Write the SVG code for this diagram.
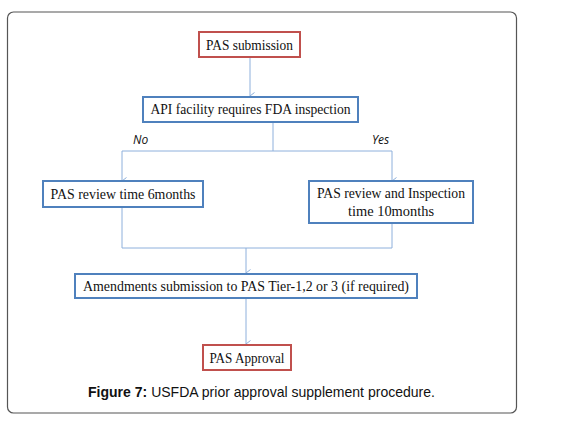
<svg xmlns="http://www.w3.org/2000/svg" width="572" height="424" viewBox="0 0 572 424">
<defs>
<marker id="ah" markerWidth="8" markerHeight="8" refX="4" refY="6" orient="auto" markerUnits="userSpaceOnUse" viewBox="0 0 8 8">
<path d="M0.5,1.5 L4,6 L7.5,1.5" fill="none" stroke="#8eb0dc" stroke-width="1"/>
</marker>
</defs>
<style>
.red{fill:#fff;stroke:#c0504d;stroke-width:2}
.blue{fill:#fff;stroke:#4f81bd;stroke-width:2}
.t{font-family:"Liberation Serif","DejaVu Serif",serif;font-size:14.5px;fill:#111;text-anchor:middle}
.lab{font-family:"Open Sans","Liberation Sans",sans-serif;font-style:italic;font-size:12px;fill:#111}
.c{fill:none;stroke:#8eb0dc;stroke-width:1}
.cap{font-family:"Liberation Sans",Arial,sans-serif;font-size:15px;fill:#111}
</style>
<rect x="0" y="0" width="572" height="424" fill="#fff"/>
<rect x="7.5" y="12" width="509" height="401" rx="6" fill="#fff" stroke="#555" stroke-width="1.2"/>
<g id="connectors">
<path class="c" d="M250,57 V96" marker-end="url(#ah)"/>
<path class="c" d="M273,122 V151 M122,151 H392"/>
<path class="c" d="M122,151 V181" marker-end="url(#ah)"/>
<path class="c" d="M392,151 V181" marker-end="url(#ah)"/>
<path class="c" d="M122,207 V248 H392 V223"/>
<path class="c" d="M246,248 V273" marker-end="url(#ah)"/>
<path class="c" d="M246,298 V344" marker-end="url(#ah)"/>
<text class="lab" x="133" y="144">No</text>
<text class="lab" x="372" y="144">Yes</text>
</g>
<g id="pas-submission">
<rect class="red" x="199" y="32" width="101" height="25"/>
<text class="t" x="249.5" y="50" textLength="87" lengthAdjust="spacingAndGlyphs">PAS submission</text>
</g>
<g id="api-facility">
<rect class="blue" x="143" y="97" width="215" height="25"/>
<text class="t" x="250.5" y="114" textLength="200" lengthAdjust="spacingAndGlyphs">API facility requires FDA inspection</text>
</g>
<g id="review-6">
<rect class="blue" x="43" y="181" width="160" height="26"/>
<text class="t" x="123" y="198.5" textLength="145" lengthAdjust="spacingAndGlyphs">PAS review time 6months</text>
</g>
<g id="review-10">
<rect class="blue" x="309" y="181" width="164" height="42"/>
<text class="t" x="391" y="198" textLength="148" lengthAdjust="spacingAndGlyphs">PAS review and Inspection</text>
<text class="t" x="391" y="215.5" textLength="86" lengthAdjust="spacingAndGlyphs">time 10months</text>
</g>
<g id="amendments">
<rect class="blue" x="75" y="274" width="342" height="24"/>
<text class="t" x="246" y="291" textLength="326" lengthAdjust="spacingAndGlyphs">Amendments submission to PAS Tier-1,2 or 3 (if required)</text>
</g>
<g id="pas-approval">
<rect class="red" x="203" y="345" width="88" height="25"/>
<text class="t" x="247" y="363" textLength="75" lengthAdjust="spacingAndGlyphs">PAS Approval</text>
</g>
<text class="cap" x="88" y="397" textLength="347" lengthAdjust="spacingAndGlyphs"><tspan font-weight="bold">Figure 7:</tspan> USFDA prior approval supplement procedure.</text>
</svg>
